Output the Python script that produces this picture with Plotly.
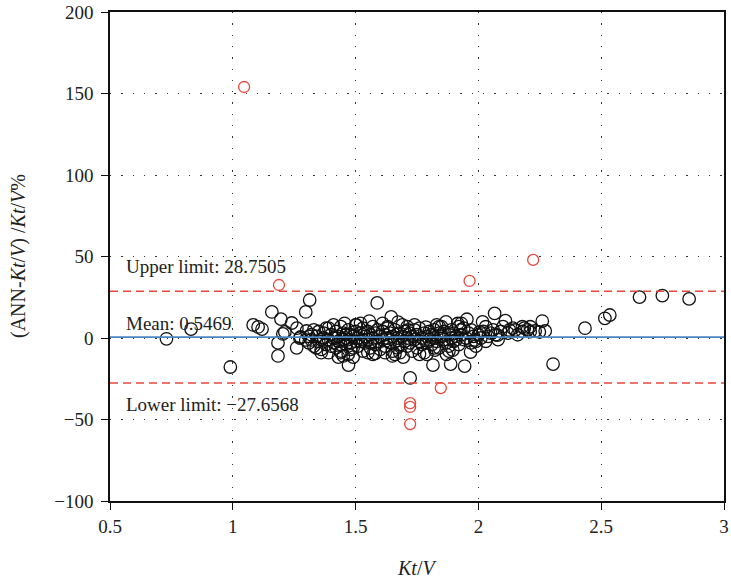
import plotly.graph_objects as go

# Bland-Altman style agreement: ANN-predicted Kt/V vs measured Kt/V
mean_diff = 0.5469
upper_limit = 28.7505
lower_limit = -27.6568

# Points inside the limits of agreement
ktv_in = [
    0.73, 0.83, 0.99,
    1.313, 1.297, 1.159, 1.196, 1.083, 1.103, 1.119, 1.24, 1.212, 1.204, 1.184, 1.184,
    1.261, 1.273, 1.26, 1.30, 1.32, 1.34, 1.297, 1.276,
    1.588, 1.455, 1.503, 1.556, 1.645, 1.673, 1.714, 1.786, 1.722, 1.471, 1.43, 1.49,
    1.694, 1.58, 1.82, 1.815,
    2.066, 2.11, 1.953, 1.916, 1.868, 2.017, 2.03, 2.187, 2.15, 2.211, 2.078, 2.126,
    1.823, 1.896, 1.968, 1.887, 1.944, 1.908, 1.928, 1.847, 1.985, 2.005,
    2.26, 2.211, 2.179, 2.231, 2.272, 2.248, 2.434, 2.515, 2.535, 2.304,
    2.656, 2.749, 2.858,
    1.31, 1.32, 1.33, 1.34, 1.35, 1.35, 1.36, 1.37, 1.37, 1.38, 1.38, 1.39, 1.39, 1.40, 1.40,
    1.33, 1.36, 1.31,
    1.41, 1.41, 1.42, 1.42, 1.43, 1.43, 1.44, 1.44, 1.45, 1.45, 1.46, 1.46, 1.47, 1.47, 1.48,
    1.48, 1.49, 1.49, 1.50, 1.50, 1.44, 1.46, 1.48, 1.42, 1.47,
    1.51, 1.51, 1.52, 1.52, 1.53, 1.53, 1.54, 1.54, 1.55, 1.55, 1.56, 1.56, 1.57, 1.57, 1.58,
    1.58, 1.59, 1.59, 1.60, 1.60, 1.53, 1.56,
    1.61, 1.61, 1.62, 1.62, 1.63, 1.63, 1.64, 1.64, 1.65, 1.65, 1.66, 1.66, 1.67, 1.67, 1.68,
    1.68, 1.69, 1.69, 1.70, 1.70, 1.62, 1.66,
    1.71, 1.71, 1.72, 1.72, 1.73, 1.73, 1.74, 1.74, 1.75, 1.75, 1.76, 1.76, 1.77, 1.77, 1.78,
    1.78, 1.79, 1.79, 1.80, 1.80,
    1.81, 1.81, 1.82, 1.82, 1.83, 1.84, 1.84, 1.85, 1.85, 1.86, 1.86, 1.87, 1.88, 1.88, 1.89,
    1.89, 1.90, 1.90,
    1.91, 1.92, 1.93, 1.94, 1.94, 1.95, 1.96, 1.97, 1.97, 1.98, 1.99, 2.00,
    2.01, 2.02, 2.03, 2.04, 2.05, 2.06, 2.07, 2.08, 2.09, 2.10,
    2.12, 2.14, 2.16, 2.18, 2.20,
    1.36, 1.41, 1.45, 1.52, 1.57, 1.63, 1.68, 1.74, 1.79, 1.84, 1.88, 1.93,
    1.39, 1.44, 1.50, 1.55, 1.61, 1.65, 1.71, 1.76, 1.83, 1.87, 1.92, 1.99,
]
diff_in = [
    -0.5, 5.5, -17.8,
    23.3, 16.0, 16.0, 11.6, 8.0, 6.8, 5.5, 9.2, 3.7, 2.5, -3.0, -11.0,
    6.0, 0.0, -6.0, 4.3, -1.2, -6.0, -1.2, 0.6,
    21.5, 9.0, 8.0, 10.4, 12.9, 9.8, 4.9, 6.7, -24.5, -16.6, -11.7, -11.7,
    -11.7, -9.4, -6.0, -16.6,
    15.1, 10.6, 11.5, 8.9, 9.9, 9.9, 6.9, 6.0, 4.9, 3.9, 1.8, 4.9,
    -7.4, -7.4, -8.6, -16.0, -17.2, -1.2, 4.9, 1.8, -1.2, 3.7,
    10.4, 6.9, 6.9, 4.3, 4.3, 3.7, 6.0, 12.1, 14.1, -16.0,
    25.1, 26.0, 24.0,
    -3, 2, -5, 1, -2, 4, -7, 0, 3, -4, 6, -1, -9, 2, -5,
    5, -1, 1,
    0, -3, 4, -6, 1, -2, 7, -8, 3, -1, 0, -4, 5, -10, 2,
    -3, -6, 1, 4, -2, -4, 2, -7, 0, -1,
    0, -5, 3, -2, 6, -8, 1, -3, -1, 4, -6, 2, 0, 7, -4,
    3, -2, 5, 1, -7, -1, -3,
    -1, 4, 2, -5, 7, 0, -3, 3, -8, 1, 5, -2, 0, -6, 3,
    -4, 1, 8, -2, 4, -9, -10,
    0, -5, 3, -3, 1, -8, 5, -1, 2, -6, -2, 6, 0, -4, 3,
    -9, 1, -3, 4, -1,
    2, -4, 0, 5, -2, 3, -6, 1, 7, -1, 4, -3, 2, -8, 0,
    5, -2, 3,
    1, -4, 2, 6, -1, 0, 3, -3, 5, 1, -2, 2,
    0, 4, -2, 1, 3, 5, 2, -1, 4, 7,
    3, 6, 2, 4, 5,
    -9, 8, -11, 9, -10, 6, -9, 8, -10, 7, -5, 9,
    6, -9, 8, -9, 9, -11, 7, -10, 8, -10, 7, -5,
]

# Points outside the limits of agreement
ktv_out = [1.046, 1.188, 1.964, 2.223, 1.847, 1.722, 1.722, 1.722]
diff_out = [154.0, 32.5, 35.0, 47.9, -30.7, -40.0, -42.3, -52.8]

x_ticks = [0.5, 1, 1.5, 2, 2.5, 3]
y_ticks = [-100, -50, 0, 50, 100, 150, 200]

FONT = "Liberation Serif"
TEXT = "#222222"
RED = "#e8473c"
BLUE = "#4a86c4"

fig = go.Figure()
fig.add_trace(go.Scatter(
    x=ktv_in, y=diff_in, mode="markers",
    marker=dict(symbol="circle-open", size=12.5, color="#111111",
                line=dict(width=1.3, color="#111111")),
    showlegend=False, hoverinfo="x+y",
))
fig.add_trace(go.Scatter(
    x=ktv_out, y=diff_out, mode="markers",
    marker=dict(symbol="circle-open", size=11, color=RED,
                line=dict(width=1.3, color=RED)),
    showlegend=False, hoverinfo="x+y",
))

# Mean difference and limits of agreement
fig.add_shape(type="line", xref="paper", x0=0, x1=1, yref="y",
              y0=mean_diff, y1=mean_diff, layer="above",
              line=dict(color=BLUE, width=1.6))
for lim in (upper_limit, lower_limit):
    fig.add_shape(type="line", xref="paper", x0=0, x1=1, yref="y",
                  y0=lim, y1=lim, layer="above",
                  line=dict(color=RED, width=1.5, dash="8px,5px"))

labels = [
    (f"Upper limit: {upper_limit:.4f}", 43.6),
    (f"Mean: {mean_diff:.4f}", 9.2),
    (f"Lower limit: \u2212{abs(lower_limit):.4f}", -41.0),
]
for txt, ypos in labels:
    fig.add_annotation(text=txt, xref="paper", x=0.022, yref="y", y=ypos,
                       xanchor="left", yanchor="middle", showarrow=False,
                       font=dict(family=FONT, size=19, color=TEXT))

fig.add_annotation(
    text="(ANN-<i>Kt</i>/<i>V</i>) /<i>Kt</i>/<i>V</i>%",
    xref="paper", x=-0.149, yref="paper", y=0.5, textangle=-90,
    xanchor="center", yanchor="middle", showarrow=False,
    font=dict(family=FONT, size=20, color=TEXT),
)
fig.add_annotation(
    text="<i>Kt</i>/<i>V</i>",
    xref="paper", x=0.5, yref="paper", y=-0.137,
    xanchor="center", yanchor="middle", showarrow=False,
    font=dict(family=FONT, size=20, color=TEXT),
)

axis_common = dict(
    showline=True, linecolor="#111111", linewidth=1.5, mirror=True,
    ticks="outside", ticklen=7, tickwidth=1.3, tickcolor="#111111",
    showgrid=True, gridcolor="#333333", gridwidth=1.2, griddash="1.3px,10px",
    zeroline=False, automargin=False, ticklabeloverflow="allow",
    tickfont=dict(family=FONT, size=19, color=TEXT),
)

fig.update_layout(
    width=731, height=586,
    margin=dict(l=110, r=7, t=12, b=85),
    paper_bgcolor="white", plot_bgcolor="white",
    xaxis=dict(range=[0.5, 3], tickvals=x_ticks, **axis_common),
    yaxis=dict(range=[-100, 200], tickvals=y_ticks, ticklabelstandoff=4,
               **axis_common),
)

fig.write_html("out.html")
